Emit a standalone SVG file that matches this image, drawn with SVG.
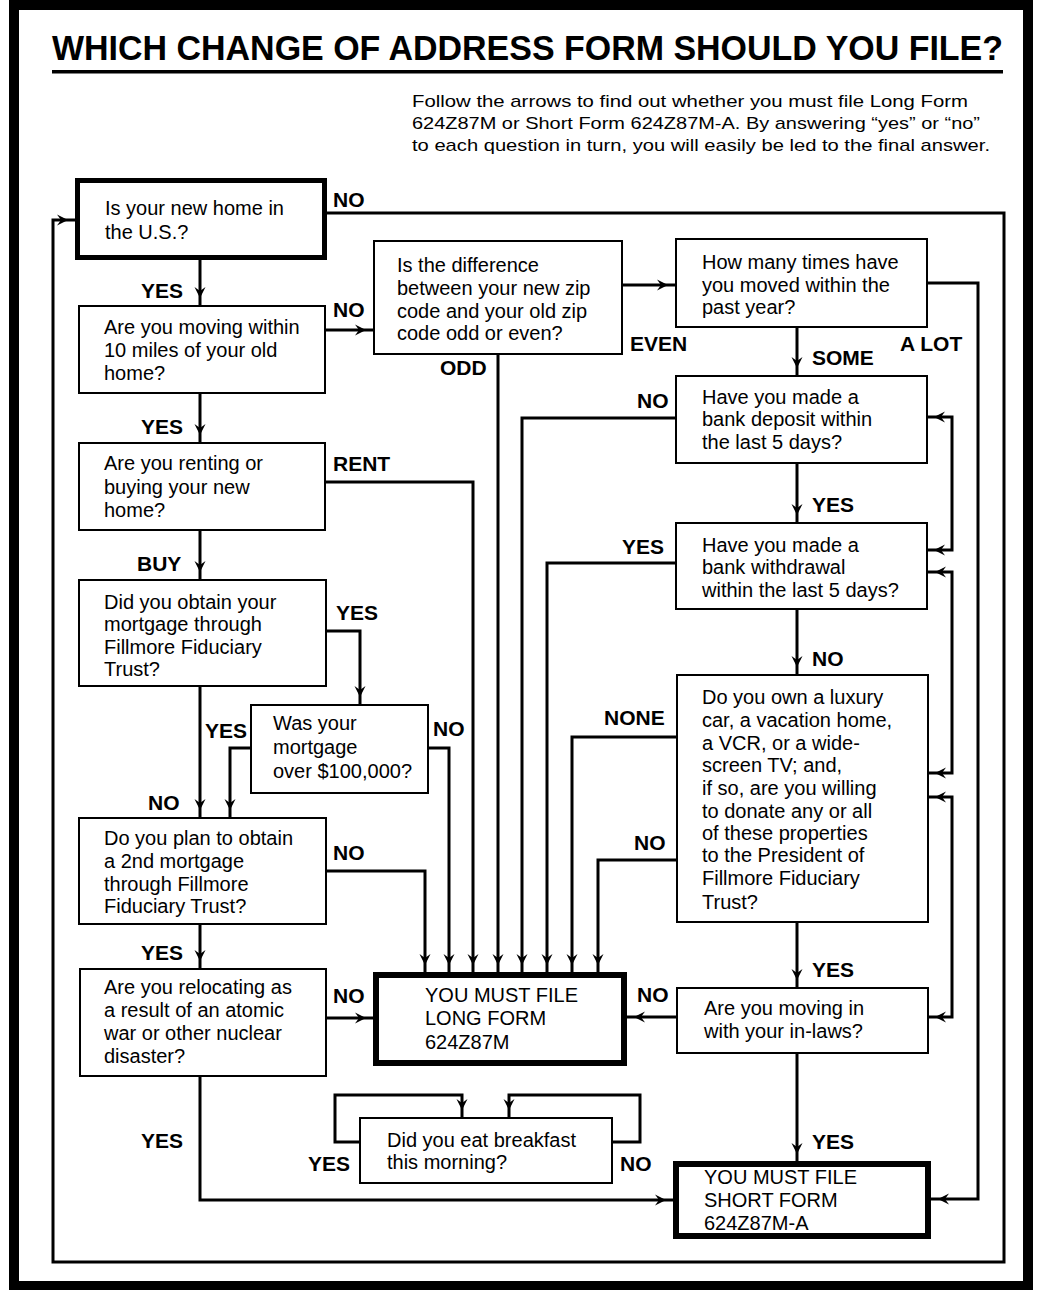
<svg xmlns="http://www.w3.org/2000/svg" width="1038" height="1290" viewBox="0 0 1038 1290">
<defs>
<style>
.box{fill:#fff;stroke:#000;stroke-width:2}
.thick{stroke-width:5}
.t{font-family:"Liberation Sans",Arial,Helvetica,sans-serif;font-size:20px;fill:#000}
.lbl{font-family:"Liberation Sans",Arial,Helvetica,sans-serif;font-size:21px;font-weight:bold;fill:#000}
.c{fill:none;stroke:#000;stroke-width:3}
.a{marker-end:url(#ah)}
.b{marker-start:url(#ah);marker-end:url(#ah)}
</style>
<marker id="ah" viewBox="-12 -7 20 14" refX="7" refY="0" markerWidth="20" markerHeight="14" markerUnits="userSpaceOnUse" orient="auto-start-reverse">
<path d="M-11,-5.5 L0,0 L-11,5.5 L-7,0 Z" fill="#000"/>
</marker>
</defs>
<rect x="0" y="0" width="1038" height="1290" fill="#fff"/>
<rect x="14" y="5" width="1014" height="1281" fill="none" stroke="#000" stroke-width="10"/>
<g id="title">
<text x="52" y="60" class="lbl" style="font-size:35px" textLength="951" lengthAdjust="spacingAndGlyphs">WHICH CHANGE OF ADDRESS FORM SHOULD YOU FILE?</text>
<rect x="52" y="70" width="951" height="3.5" fill="#000"/>
<text x="412" y="107" class="t" style="font-size:17px" textLength="556" lengthAdjust="spacingAndGlyphs">Follow the arrows to find out whether you must file Long Form</text>
<text x="412" y="129" class="t" style="font-size:17px" textLength="568" lengthAdjust="spacingAndGlyphs">624Z87M or Short Form 624Z87M-A. By answering “yes” or “no”</text>
<text x="412" y="151" class="t" style="font-size:17px" textLength="578" lengthAdjust="spacingAndGlyphs">to each question in turn, you will easily be led to the final answer.</text>
</g>
<g id="connectors">
<path class="c a" d="M200,260 V305"/>
<path class="c a" d="M200,393 V442"/>
<path class="c a" d="M200,530 V579"/>
<path class="c a" d="M200,686 V817"/>
<path class="c a" d="M327,631 H360 V704"/>
<path class="c a" d="M250,748 H230 V817"/>
<path class="c a" d="M429,748 H449 V972"/>
<path class="c a" d="M327,871 H425 V972"/>
<path class="c a" d="M325,482 H473 V972"/>
<path class="c a" d="M498,355 V972"/>
<path class="c a" d="M675,418 H522 V972"/>
<path class="c a" d="M675,563 H547 V972"/>
<path class="c a" d="M677,737 H572 V972"/>
<path class="c a" d="M677,860 H598 V972"/>
<path class="c a" d="M200,924 V968"/>
<path class="c a" d="M327,1018 H373"/>
<path class="c a" d="M200,1076 V1200 H673"/>
<path class="c a" d="M325,330 H373"/>
<path class="c a" d="M622,285 H675"/>
<path class="c a" d="M797,327 V375"/>
<path class="c a" d="M797,463 V522"/>
<path class="c a" d="M797,609 V674"/>
<path class="c a" d="M797,922 V987"/>
<path class="c a" d="M677,1017 H627"/>
<path class="c a" d="M797,1053 V1161"/>
<path class="c a" d="M927,283 H978 V1199 H931"/>
<path class="c a" d="M327,213 H1004 V1262 H53 V220 H75"/>
<path class="c b" d="M927,550 H952 V417 H927"/>
<path class="c b" d="M928,773 H952 V572 H928"/>
<path class="c b" d="M928,1017 H952 V797 H928"/>
<path class="c a" d="M359,1142 H335 V1095 H462 V1117"/>
<path class="c a" d="M613,1142 H640 V1095 H509 V1117"/>
</g>
<g id="labels">
<text class="lbl" x="333" y="207">NO</text>
<text class="lbl" x="141" y="298">YES</text>
<text class="lbl" x="333" y="317">NO</text>
<text class="lbl" x="440" y="375">ODD</text>
<text class="lbl" x="141" y="434">YES</text>
<text class="lbl" x="333" y="471">RENT</text>
<text class="lbl" x="137" y="571">BUY</text>
<text class="lbl" x="336" y="620">YES</text>
<text class="lbl" x="205" y="738">YES</text>
<text class="lbl" x="433" y="736">NO</text>
<text class="lbl" x="148" y="810">NO</text>
<text class="lbl" x="333" y="860">NO</text>
<text class="lbl" x="141" y="960">YES</text>
<text class="lbl" x="333" y="1003">NO</text>
<text class="lbl" x="141" y="1148">YES</text>
<text class="lbl" x="308" y="1171">YES</text>
<text class="lbl" x="620" y="1171">NO</text>
<text class="lbl" x="637" y="1002">NO</text>
<text class="lbl" x="812" y="977">YES</text>
<text class="lbl" x="812" y="1149">YES</text>
<text class="lbl" x="630" y="351">EVEN</text>
<text class="lbl" x="812" y="365">SOME</text>
<text class="lbl" x="900" y="351">A LOT</text>
<text class="lbl" x="637" y="408">NO</text>
<text class="lbl" x="812" y="512">YES</text>
<text class="lbl" x="622" y="554">YES</text>
<text class="lbl" x="812" y="666">NO</text>
<text class="lbl" x="604" y="725">NONE</text>
<text class="lbl" x="634" y="850">NO</text>
</g>
<g id="n1"><rect class="box thick" x="77.5" y="180.5" width="247" height="77"/>
<text class="t" x="105" y="215">Is your new home in</text><text class="t" x="105" y="239">the U.S.?</text></g>
<g id="n2"><rect class="box" x="79" y="306" width="246" height="87"/>
<text class="t" x="104" y="334">Are you moving within</text><text class="t" x="104" y="357">10 miles of your old</text><text class="t" x="104" y="380">home?</text></g>
<g id="n3"><rect class="box" x="79" y="443" width="246" height="87"/>
<text class="t" x="104" y="470">Are you renting or</text><text class="t" x="104" y="494">buying your new</text><text class="t" x="104" y="517">home?</text></g>
<g id="n4"><rect class="box" x="79" y="580" width="247" height="106"/>
<text class="t" x="104" y="609">Did you obtain your</text><text class="t" x="104" y="631">mortgage through</text><text class="t" x="104" y="654">Fillmore Fiduciary</text><text class="t" x="104" y="676">Trust?</text></g>
<g id="n5"><rect class="box" x="251" y="705" width="177" height="88"/>
<text class="t" x="273" y="730">Was your</text><text class="t" x="273" y="754">mortgage</text><text class="t" x="273" y="778">over $100,000?</text></g>
<g id="n6"><rect class="box" x="79" y="818" width="247" height="106"/>
<text class="t" x="104" y="845">Do you plan to obtain</text><text class="t" x="104" y="868">a 2nd mortgage</text><text class="t" x="104" y="891">through Fillmore</text><text class="t" x="104" y="913">Fiduciary Trust?</text></g>
<g id="n7"><rect class="box" x="80" y="969" width="246" height="107"/>
<text class="t" x="104" y="994">Are you relocating as</text><text class="t" x="104" y="1017">a result of an atomic</text><text class="t" x="104" y="1040">war or other nuclear</text><text class="t" x="104" y="1063">disaster?</text></g>
<g id="longform"><rect class="box" style="stroke-width:6" x="376" y="975" width="248" height="88"/>
<text class="t" x="425" y="1002">YOU MUST FILE</text><text class="t" x="425" y="1025">LONG FORM</text><text class="t" x="425" y="1049">624Z87M</text></g>
<g id="breakfast"><rect class="box" x="360" y="1118" width="252" height="65"/>
<text class="t" x="387" y="1147">Did you eat breakfast</text><text class="t" x="387" y="1169">this morning?</text></g>
<g id="diff"><rect class="box" x="374" y="241" width="248" height="113"/>
<text class="t" x="397" y="272">Is the difference</text><text class="t" x="397" y="295">between your new zip</text><text class="t" x="397" y="318">code and your old zip</text><text class="t" x="397" y="340">code odd or even?</text></g>
<g id="howmany"><rect class="box" x="676" y="239" width="251" height="88"/>
<text class="t" x="702" y="269">How many times have</text><text class="t" x="702" y="292">you moved within the</text><text class="t" x="702" y="314">past year?</text></g>
<g id="deposit"><rect class="box" x="676" y="376" width="251" height="87"/>
<text class="t" x="702" y="404">Have you made a</text><text class="t" x="702" y="426">bank deposit within</text><text class="t" x="702" y="449">the last 5 days?</text></g>
<g id="withdrawal"><rect class="box" x="676" y="523" width="251" height="86"/>
<text class="t" x="702" y="552">Have you made a</text><text class="t" x="702" y="574">bank withdrawal</text><text class="t" x="702" y="597">within the last 5 days?</text></g>
<g id="luxury"><rect class="box" x="677" y="675" width="251" height="247"/>
<text class="t" x="702" y="704">Do you own a luxury</text><text class="t" x="702" y="727">car, a vacation home,</text><text class="t" x="702" y="750">a VCR, or a wide-</text><text class="t" x="702" y="772">screen TV; and,</text><text class="t" x="702" y="795">if so, are you willing</text><text class="t" x="702" y="818">to donate any or all</text><text class="t" x="702" y="840">of these properties</text><text class="t" x="702" y="862">to the President of</text><text class="t" x="702" y="885">Fillmore Fiduciary</text><text class="t" x="702" y="909">Trust?</text></g>
<g id="inlaws"><rect class="box" x="677" y="988" width="251" height="65"/>
<text class="t" x="704" y="1015">Are you moving in</text><text class="t" x="704" y="1038">with your in-laws?</text></g>
<g id="shortform"><rect class="box" style="stroke-width:6" x="676" y="1164" width="252" height="72"/>
<text class="t" x="704" y="1184">YOU MUST FILE</text><text class="t" x="704" y="1207">SHORT FORM</text><text class="t" x="704" y="1230">624Z87M-A</text></g>
</svg>
